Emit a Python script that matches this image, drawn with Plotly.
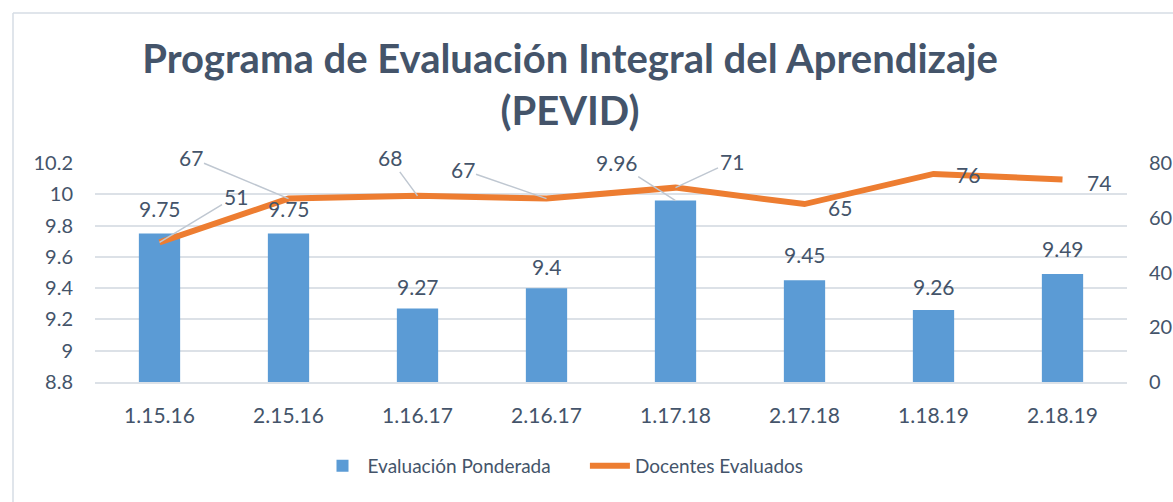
import plotly.graph_objects as go

categories = ["1.15.16", "2.15.16", "1.16.17", "2.16.17", "1.17.18", "2.17.18", "1.18.19", "2.18.19"]
evaluacion = [9.75, 9.75, 9.27, 9.4, 9.96, 9.45, 9.26, 9.49]
docentes = [51, 67, 68, 67, 71, 65, 76, 74]
left_ticks = [8.8, 9, 9.2, 9.4, 9.6, 9.8, 10, 10.2]
left_ticktext = ["8.8", "9", "9.2", "9.4", "9.6", "9.8", "10", "10.2"]
right_ticks = [0, 20, 40, 60, 80]

TXT = "#44546A"
GRID = "#DCE1E7"
FONT = "Lato"

W, H = 1173, 502
L, T = 95, 163
PW, PH = 1032, 219
R = W - L - PW
B = H - T - PH

# label offsets (pixels): style only
bar_lbl = [(0, -25, False), (0, -25, False), (0, -22, False), (0, -22, False),
           (-59, -38, True), (0, -26, False), (0, -24, False), (0, -26, False)]
line_lbl = [(76, -46, True), (-98, -41, True), (-28, -38, True), (-84, -29, True),
            (56, -26, True), (35, 3, False), (34, 1, False), (36, 3, False)]

fig = go.Figure()
fig.add_trace(go.Bar(
    x=categories, y=evaluacion, name="Evaluación Ponderada" + "&nbsp;" * 6,
    marker=dict(color="#5B9BD5", line=dict(width=0)), width=0.32,
    yaxis="y",
))
fig.add_trace(go.Scatter(
    x=categories, y=docentes, name="Docentes Evaluados", mode="lines",
    line=dict(color="#ED7D31", width=6), yaxis="y2",
))

annotations = []
for series, yref, specs in ((evaluacion, "y", bar_lbl), (docentes, "y2", line_lbl)):
    for c, v, (dx, dy, arrow) in zip(categories, series, specs):
        base = dict(x=c, y=v, xref="x", yref=yref, text=str(v),
                    font=dict(family=FONT, size=21, color=TXT))
        if arrow:
            base.update(showarrow=True, ax=dx, ay=dy, arrowhead=0, arrowwidth=1.5,
                        arrowcolor="#BFC7D1")
        else:
            base.update(showarrow=False, xshift=dx, yshift=-dy)
        annotations.append(base)

fig.update_layout(
    width=W, height=H,
    margin=dict(l=L, r=R, t=T, b=B, autoexpand=False),
    paper_bgcolor="white", plot_bgcolor="white",
    title=dict(text="<b>Programa de Evaluación Integral del Aprendizaje<br>(PEVID)</b>",
               x=570 / W, xref="container", xanchor="center",
               y=1 - 73 / H, yref="container", yanchor="middle",
               font=dict(family=FONT, size=40, color=TXT)),
    font=dict(family=FONT, color=TXT),
    xaxis=dict(showgrid=False, showline=True, linecolor=GRID, linewidth=2, ticks="",
               tickfont=dict(family=FONT, size=21, color=TXT), ticklabelstandoff=14),
    yaxis=dict(range=[8.8, 10.2], tickvals=left_ticks, ticktext=left_ticktext,
               showgrid=True, gridcolor=GRID, gridwidth=2, zeroline=False, ticks="",
               tickfont=dict(family=FONT, size=20, color=TXT), ticklabelstandoff=21),
    yaxis2=dict(range=[0, 80], tickvals=right_ticks, overlaying="y", side="right",
                showgrid=False, zeroline=False, ticks="",
                tickfont=dict(family=FONT, size=20, color=TXT), ticklabelstandoff=21),
    legend=dict(orientation="h", x=(563 - L) / PW, xanchor="center",
                y=(T + PH - 466) / PH, yanchor="middle",
                font=dict(family=FONT, size=19, color=TXT), itemwidth=40),
    bargap=0.68,
    annotations=annotations,
    shapes=[
        dict(type="line", xref="paper", yref="paper",
             x0=(13 - L) / PW, x1=(W + 20 - L) / PW,
             y0=(T + PH - 13) / PH, y1=(T + PH - 13) / PH,
             line=dict(color="#D6DCE4", width=1.5)),
        dict(type="line", xref="paper", yref="paper",
             x0=(13 - L) / PW, x1=(13 - L) / PW,
             y0=(T + PH - 13) / PH, y1=(T + PH - H - 20) / PH,
             line=dict(color="#D6DCE4", width=1.5)),
    ],
)

fig.write_html(
    "out.html",
    config={"displayModeBar": False},
    post_script="document.body.style.margin='0';document.body.style.overflow='hidden';",
)
